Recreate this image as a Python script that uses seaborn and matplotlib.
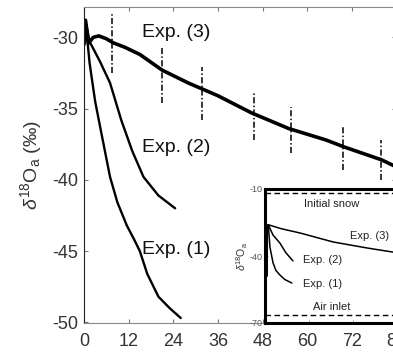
import numpy as np
import pandas as pd
import matplotlib
matplotlib.use("Agg")
import matplotlib.pyplot as plt
import seaborn as sns

# --- main panel: delta18O of air (permil) vs time (h) ---
EXP1_T = [0, 0.4, 1.5, 3, 4.5, 7, 9, 11.5, 13.5, 15, 17, 20, 23, 26]
EXP1_V = [-30.5, -28.8, -31.8, -34.5, -36.5, -39.8, -41.6, -43.2, -44.2, -45.0, -46.6, -48.2, -49.0, -49.7]

EXP2_T = [0, 0.4, 1.5, 4.3, 7, 10, 13, 16, 20, 24.5]
EXP2_V = [-30.5, -28.8, -30.3, -31.7, -33.2, -35.8, -38.0, -39.8, -41.1, -42.0]

EXP3_T = [0, 0.4, 1.2, 2.5, 4, 6, 8, 11, 15, 21, 28, 36, 45, 55, 65, 70, 80, 84]
EXP3_V = [-30.5, -28.8, -30.4, -30.0, -29.9, -30.1, -30.4, -30.7, -31.2, -32.3, -33.2, -34.1,
          -35.3, -36.4, -37.2, -37.7, -38.6, -39.1]

# calibration jumps in Exp. (3)
SPIKE_T = [7.5, 21, 31.7, 45.6, 55.7, 69.6, 79.7]
SPIKE_LO = [-32.5, -34.6, -35.8, -37.2, -38.1, -39.3, -40.0]
SPIKE_HI = [-28.3, -30.6, -32.1, -33.9, -34.9, -36.2, -37.2]

LABELS = ["Exp. (1)", "Exp. (2)", "Exp. (3)"]
LABEL_X = [15.6, 15.6, 15.6]
LABEL_Y = [-44.9, -37.7, -29.65]

XTICKS = [0, 12, 24, 36, 48, 60, 72, 84]
YTICKS = [-50, -45, -40, -35, -30]

# --- inset: full range incl. initial snow and air inlet ---
IN1_T = [3, 4.5, 7.3, 10, 13.6, 18, 24.5]
IN1_V = [-26, -36, -43, -46.5, -48.5, -50.5, -52.1]
IN2_T = [3, 7.3, 13.6, 19, 25.5]
IN2_V = [-26, -30.6, -34.2, -38.5, -42.2]
IN3_T = [3, 15, 32, 62, 93, 120]
IN3_V = [-26, -27.8, -29.7, -33.7, -36.4, -38.5]
IN_DROP_T = [1, 1]
IN_DROP_V = [-26, -48.5]
SNOW = -12
AIR_INLET = -66.5
IN_YTICKS = [-70, -40, -10]

sns.set_theme(style="ticks")
plt.rcParams["font.family"] = ["Liberation Sans", "DejaVu Sans"]
plt.rcParams["mathtext.fontset"] = "custom"
plt.rcParams["mathtext.rm"] = "Liberation Sans"
plt.rcParams["mathtext.it"] = "Liberation Sans:italic"
plt.rcParams["axes.unicode_minus"] = False

fig = plt.figure(figsize=(3.93, 3.58), dpi=100)
ax = fig.add_axes([84 / 393, 1 - 323 / 358, 312.5 / 393, 316.3 / 358])

for t, v, lw in [(EXP1_T, EXP1_V, 1.7), (EXP2_T, EXP2_V, 1.7), (EXP3_T, EXP3_V, 2.6)]:
    sns.lineplot(x=t, y=v, ax=ax, color="black", lw=lw, sort=False, estimator=None)
ax.vlines(SPIKE_T, SPIKE_LO, SPIKE_HI, color="black", lw=1.1, linestyles=(0, (4, 1.5, 1, 1.5)))

for lab, x, y in zip(LABELS, LABEL_X, LABEL_Y):
    ax.text(x, y, lab, fontsize=14, va="center", ha="left", color="#111111")

ax.set_xlim(0, 84)
ax.set_ylim(-50.05, -27.85)
ax.set_xticks(XTICKS)
ax.set_yticks(YTICKS)
ax.tick_params(direction="in", length=3, width=0.8, colors="#777777", labelcolor="#333333",
               labelsize=13, top=True, right=True, pad=4)
ax.tick_params(axis="x", pad=7)
for s in ax.spines.values():
    s.set_color("#888888")
    s.set_linewidth(0.8)
ax.spines["left"].set_color("#222222")
ax.set_ylabel(r"$\mathit{\delta}^{18}\mathrm{O}_{\mathrm{a}}$ (‰)", fontsize=14, color="#333333",
              labelpad=6)

# inset
ins = fig.add_axes([265 / 393, 1 - 323 / 358, 131.5 / 393, 134 / 358])
ins.set_facecolor("white")
for t, v in [(IN1_T, IN1_V), (IN2_T, IN2_V), (IN3_T, IN3_V)]:
    sns.lineplot(x=t, y=v, ax=ins, color="black", lw=1.1, sort=False, estimator=None)
ins.plot(IN_DROP_T, IN_DROP_V, color="black", lw=2.2)
ins.axhline(SNOW, color="black", lw=1.0, ls=(0, (4, 2.5)))
ins.axhline(AIR_INLET, color="black", lw=1.0, ls=(0, (4, 2.5)))
ins.text(61, -16.7, "Initial snow", fontsize=8, ha="center", va="center", color="#222222")
ins.text(61, -62.8, "Air inlet", fontsize=8, ha="center", va="center", color="#222222")
ins.text(95.5, -30.9, "Exp. (3)", fontsize=8, ha="center", va="center", color="#222222")
ins.text(34.5, -41.8, "Exp. (2)", fontsize=8, ha="left", va="center", color="#222222")
ins.text(34.5, -52.5, "Exp. (1)", fontsize=8, ha="left", va="center", color="#222222")
ins.set_xlim(0, 120)
ins.set_ylim(-70, -10)
ins.set_xticks([40, 80])
ins.set_xticklabels([])
ins.set_yticks(IN_YTICKS)
ins.set_yticklabels([str(v) for v in IN_YTICKS])
ins.tick_params(direction="in", length=2, width=0.6, colors="#888888", labelcolor="#555555",
                labelsize=6.5, pad=1.5)
for s in ins.spines.values():
    s.set_color("black")
    s.set_linewidth(2.2)
ins.set_ylabel(r"$\mathit{\delta}^{18}\mathrm{O}_{\mathrm{a}}$", fontsize=7.5, color="#333333",
               labelpad=0)

fig.savefig("out.png", dpi=100)
